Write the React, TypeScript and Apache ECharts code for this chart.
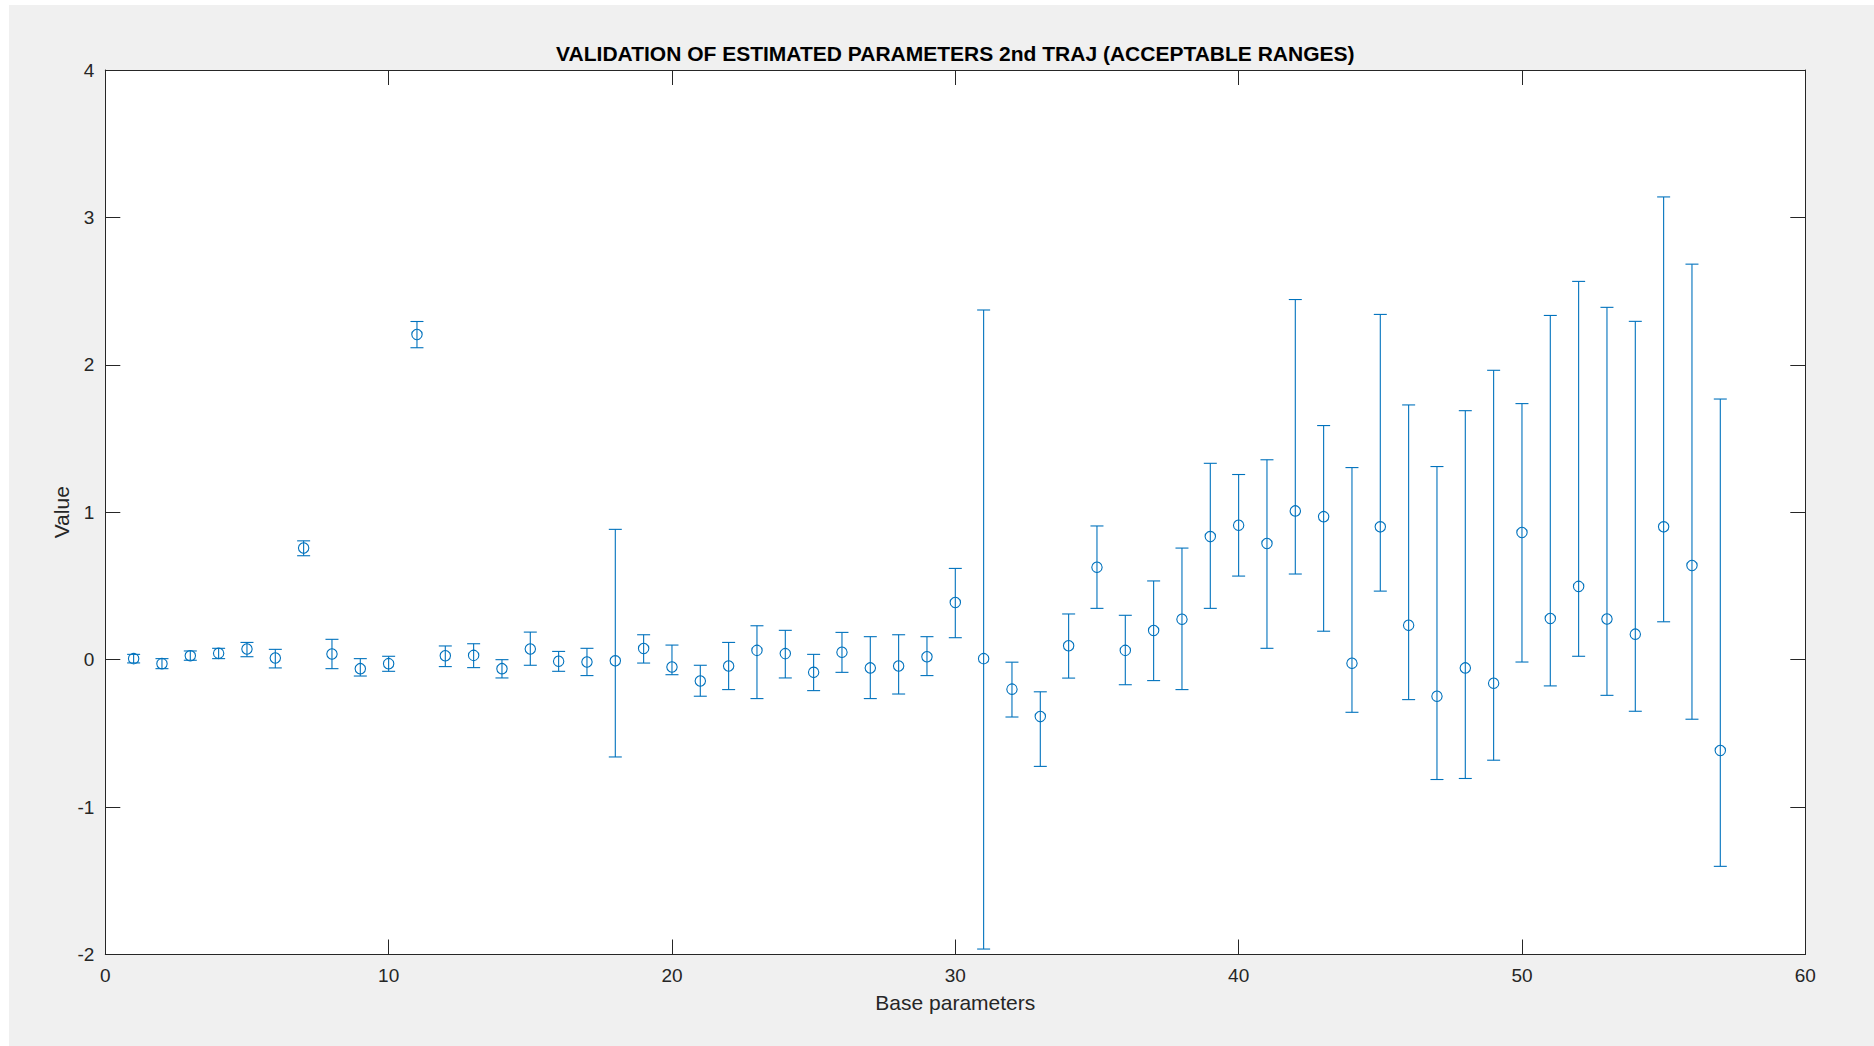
import React, { useEffect, useRef } from "react";
import * as echarts from "echarts";

const TITLE = "VALIDATION OF ESTIMATED PARAMETERS 2nd TRAJ (ACCEPTABLE RANGES)";
const X_NAME = "Base parameters";
const Y_NAME = "Value";

const paramIndex = [
  1, 2, 3, 4, 5, 6, 7, 8, 9, 10, 11, 12, 13, 14, 15, 16, 17, 18, 19, 20,
  21, 22, 23, 24, 25, 26, 27, 28, 29, 30, 31, 32, 33, 34, 35, 36, 37, 38, 39, 40,
  41, 42, 43, 44, 45, 46, 47, 48, 49, 50, 51, 52, 53, 54, 55, 56, 57,
];

const estimate = [
  0.007, -0.027, 0.027, 0.043, 0.072, 0.011, 0.757, 0.038, -0.061, -0.027,
  2.206, 0.027, 0.029, -0.061, 0.072, -0.011, -0.016, -0.008, 0.076, -0.05,
  -0.145, -0.043, 0.063, 0.041, -0.086, 0.05, -0.056, -0.043, 0.02, 0.388,
  0.007, -0.2, -0.386, 0.094, 0.627, 0.063, 0.198, 0.274, 0.835, 0.912,
  0.788, 1.009, 0.97, -0.024, 0.901, 0.233, -0.248, -0.056, -0.16, 0.863,
  0.279, 0.497, 0.276, 0.173, 0.901, 0.639, -0.616,
];

const lowerBound = [
  -0.022, -0.061, -0.004, 0.007, 0.02, -0.056, 0.705, -0.061, -0.111, -0.079,
  2.116, -0.047, -0.054, -0.124, -0.038, -0.079, -0.108, -0.66, -0.023, -0.102,
  -0.248, -0.203, -0.264, -0.124, -0.21, -0.086, -0.264, -0.233, -0.108, 0.149,
  -1.963, -0.389, -0.724, -0.125, 0.348, -0.17, -0.142, -0.203, 0.348, 0.567,
  0.077, 0.581, 0.193, -0.357, 0.465, -0.271, -0.813, -0.806, -0.682, -0.016,
  -0.178, 0.023, -0.242, -0.35, 0.257, -0.404, -1.402,
];

const upperBound = [
  0.036, 0.007, 0.059, 0.077, 0.117, 0.07, 0.806, 0.138, 0.007, 0.023,
  2.294, 0.093, 0.108, 0.0, 0.187, 0.056, 0.077, 0.884, 0.169, 0.099,
  -0.038, 0.117, 0.23, 0.199, 0.036, 0.185, 0.156, 0.169, 0.156, 0.619,
  2.372, -0.017, -0.218, 0.31, 0.907, 0.301, 0.534, 0.757, 1.332, 1.256,
  1.356, 2.443, 1.588, 1.303, 2.342, 1.728, 1.31, 1.689, 1.963, 1.737,
  2.335, 2.566, 2.39, 2.295, 3.139, 2.683, 1.768,
];

const X_MIN = 0;
const X_MAX = 60;
const X_STEP = 10;
const Y_MIN = -2;
const Y_MAX = 4;
const Y_STEP = 1;

const BLUE = "#0072BD";
const AXIS = "#262626";
const FONT = '"Liberation Sans", Arial, Helvetica, sans-serif';

const W = 1865;
const H = 1041;
const GRID = { left: 96.3, right: 68.7, top: 65, bottom: 91.5 };

export default function App() {
  const ref = useRef<HTMLDivElement>(null);

  useEffect(() => {
    if (!ref.current) return;
    const chart = echarts.init(ref.current, undefined, { renderer: "svg" });

    const data = paramIndex.map((x, i) => [x, lowerBound[i], upperBound[i], estimate[i]]);

    const axisCommon = {
      axisLine: { show: true, onZero: false, lineStyle: { color: AXIS, width: 1 } },
      axisTick: { show: true, inside: true, length: 15, lineStyle: { color: AXIS, width: 1 } },
      splitLine: { show: false },
    };

    const plotCenterX = GRID.left + (W - GRID.left - GRID.right) / 2;

    chart.setOption({
      animation: false,
      backgroundColor: "#f0f0f0",
      textStyle: { fontFamily: FONT },
      grid: {
        show: true,
        backgroundColor: "#ffffff",
        borderWidth: 0,
        left: GRID.left,
        right: GRID.right,
        top: GRID.top,
        bottom: GRID.bottom,
        containLabel: false,
      },
      graphic: [
        {
          type: "text",
          x: plotCenterX,
          y: 48,
          style: {
            text: TITLE,
            font: `bold 21px ${FONT}`,
            fill: "#000000",
            textAlign: "center",
            textVerticalAlign: "middle",
            align: "center",
            verticalAlign: "middle",
          },
        },
      ],
      xAxis: [
        {
          type: "value",
          position: "bottom",
          min: X_MIN,
          max: X_MAX,
          interval: X_STEP,
          ...axisCommon,
          axisLabel: { show: true, color: AXIS, fontSize: 19, margin: 11, fontFamily: FONT },
          name: X_NAME,
          nameLocation: "middle",
          nameGap: 37,
          nameMoveOverlap: false,
          nameTextStyle: { color: AXIS, fontSize: 21, fontFamily: FONT },
        },
        {
          type: "value",
          position: "top",
          min: X_MIN,
          max: X_MAX,
          interval: X_STEP,
          ...axisCommon,
          axisLabel: { show: false },
        },
      ],
      yAxis: [
        {
          type: "value",
          position: "left",
          min: Y_MIN,
          max: Y_MAX,
          interval: Y_STEP,
          ...axisCommon,
          axisLabel: { show: true, color: AXIS, fontSize: 19, margin: 11, fontFamily: FONT },
          name: Y_NAME,
          nameLocation: "middle",
          nameGap: 33,
          nameMoveOverlap: false,
          nameRotate: 90,
          nameTextStyle: { color: AXIS, fontSize: 21, fontFamily: FONT },
        },
        {
          type: "value",
          position: "right",
          min: Y_MIN,
          max: Y_MAX,
          interval: Y_STEP,
          ...axisCommon,
          axisLabel: { show: false },
        },
      ],
      series: [
        {
          type: "custom",
          xAxisIndex: 0,
          yAxisIndex: 0,
          encode: { x: 0, y: [1, 2, 3] },
          data,
          renderItem: (_params: any, api: any) => {
            const x = api.value(0);
            const lo = api.coord([x, api.value(1)]);
            const hi = api.coord([x, api.value(2)]);
            const c = api.coord([x, api.value(3)]);
            const cap = 6.5;
            const style = { stroke: BLUE, lineWidth: 1.1, fill: "none" };
            return {
              type: "group",
              children: [
                { type: "line", shape: { x1: hi[0], y1: hi[1], x2: lo[0], y2: lo[1] }, style },
                { type: "line", shape: { x1: hi[0] - cap, y1: hi[1], x2: hi[0] + cap, y2: hi[1] }, style },
                { type: "line", shape: { x1: lo[0] - cap, y1: lo[1], x2: lo[0] + cap, y2: lo[1] }, style },
                { type: "circle", shape: { cx: c[0], cy: c[1], r: 5.2 }, style },
              ],
            };
          },
        },
      ],
    });

    return () => chart.dispose();
  }, []);

  return (
    <div
      ref={ref}
      style={{ position: "fixed", left: 9, top: 5, width: W, height: H, background: "#f0f0f0" }}
    />
  );
}
